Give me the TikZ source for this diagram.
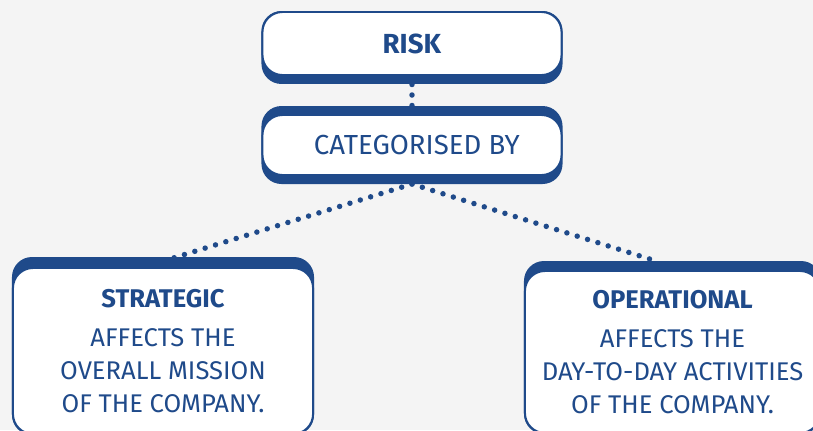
\documentclass[tikz,border=0pt]{standalone}
\usepackage{fontspec}
\setmainfont{Fira Sans}
\usetikzlibrary{positioning,calc,backgrounds}
\definecolor{riskblue}{RGB}{31,74,138}
\definecolor{paper}{RGB}{244,244,244}
\tikzset{
  card/.style={draw=riskblue, line width=1.4pt, fill=white, rounded corners=0.5cm,
    text=riskblue, align=center, inner sep=0pt},
  cardback/.style={fill=riskblue, rounded corners=0.5cm},
  dots/.style={riskblue, line width=3.9pt, line cap=round, dash pattern=on 0pt off 7.7pt},
  big/.style={font=\fontsize{19.6}{23.5}\selectfont},
  small/.style={font=\fontsize{18.2}{23.5}\selectfont}
}
\begin{document}
\begin{tikzpicture}[x=0.025cm, y=-0.025cm]
% page is 813 x 430 px, 1 unit = 1 px, y runs downwards
\useasboundingbox (0,0) rectangle (813,430);
\clip (0,0) rectangle (813,430);
\node[card, big, minimum width=7.475cm, minimum height=1.575cm] (risk) at (412,43.5) {\textbf{RISK}};
\node[card, big, minimum width=7.475cm, minimum height=1.5cm] (cat) at (412,145) {\hspace{7pt}CATEGORISED BY};
\node[card, small, minimum width=7.5cm, minimum height=4.15cm] (strat) at (163,351)
  {\textbf{STRATEGIC}\\[4pt]AFFECTS THE\\OVERALL MISSION\\OF THE COMPANY.};
\node[card, small, minimum width=7.375cm, minimum height=4.05cm] (oper) at (672.5,352)
  {\textbf{OPERATIONAL}\\[4pt]AFFECTS THE\\DAY-TO-DAY ACTIVITIES\\OF THE COMPANY.};
\coordinate (catfoot) at ($(cat.south)+(0,8)$);
\coordinate (stratjoin) at (170,259);
\coordinate (operjoin) at (656,261);
\begin{pgfonlayer}{background}
  \fill[paper] (0,0) rectangle (813,430);
  % dotted links sit under the thick blue edges
  \draw[dots, dash pattern=on 0pt off 7.47pt, dash phase=1.42pt] (risk.south) -- (cat.north);
  \draw[dots] (catfoot) -- (stratjoin);
  \draw[dots] (catfoot) -- (operjoin);
  \fill[cardback] (risk.north west) rectangle ($(risk.south east)+(0,8)$);
  \fill[cardback] ($(cat.north west)+(0,-8)$) rectangle ($(cat.south east)+(0,8)$);
  \fill[cardback] ($(strat.north west)+(0,-10)$) rectangle (strat.south east);
  \fill[cardback] ($(oper.north west)+(0,-9)$) rectangle (oper.south east);
\end{pgfonlayer}
\end{tikzpicture}
\end{document}
